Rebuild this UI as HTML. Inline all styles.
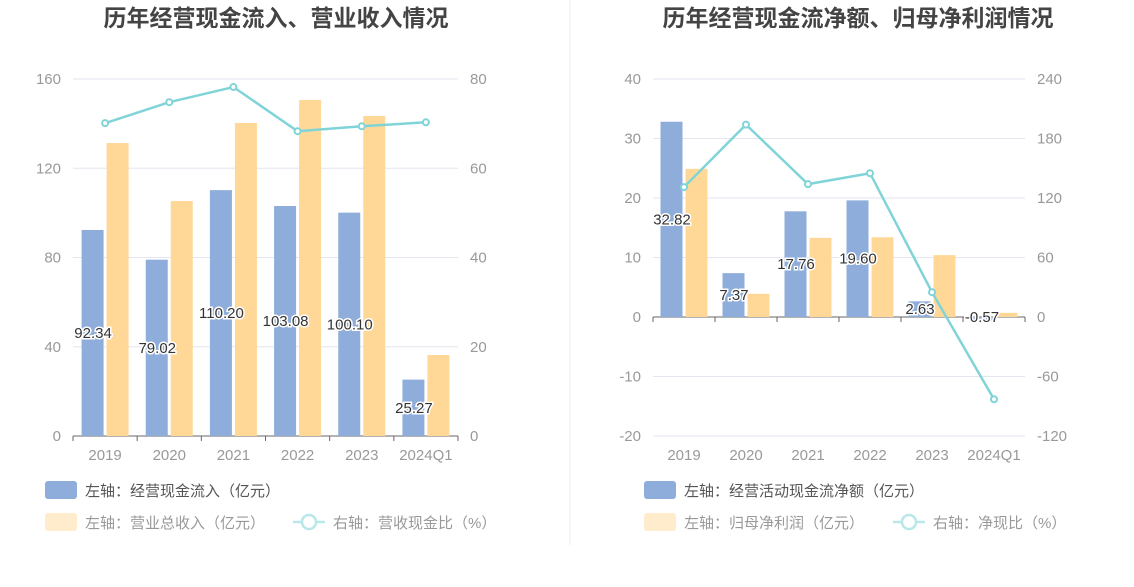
<!DOCTYPE html>
<html><head><meta charset="utf-8"><style>
body{margin:0;background:#fff;width:1134px;height:582px;overflow:hidden;font-family:"Liberation Sans","Noto Sans CJK SC",sans-serif;}
svg text{font-family:"Liberation Sans","Noto Sans CJK SC",sans-serif;}
</style></head><body>
<svg id="c" width="1134" height="582"></svg>
<script>
const cats1=["2019","2020","2021","2022","2023","2024Q1"];
const inflow=[92.34,79.02,110.20,103.08,100.10,25.27];
const revenue=[131.3,105.3,140.3,150.6,143.4,36.3];
const ratio1=[70.1,74.8,78.2,68.3,69.4,70.3];
const yTicks1=[0,40,80,120,160];
const yRTicks1=[0,20,40,60,80];
const cats2=["2019","2020","2021","2022","2023","2024Q1"];
const netCash=[32.82,7.37,17.76,19.60,2.63,-0.57];
const netProfit=[24.9,3.9,13.3,13.4,10.4,0.7];
const ratio2=[131,194,134,145,25,-83];
const yTicks2=[-20,-10,0,10,20,30,40];
const yRTicks2=[-120,-60,0,60,120,180,240];

const NS="http://www.w3.org/2000/svg";
const svg=document.getElementById('c');
function el(t,a,p){const e=document.createElementNS(NS,t);for(const k in a)e.setAttribute(k,a[k]);(p||svg).appendChild(e);return e;}
function txt(s,a,p){const e=el('text',a,p);e.textContent=s;return e;}

function chart(o){
  const g=el('g',{});
  
  
  const y=v=>o.y0+(v-o.min)/(o.max-o.min)*(o.y1-o.y0);
  const yr=v=>o.y0+(v-o.rmin)/(o.rmax-o.rmin)*(o.y1-o.y0);
  const bw=(o.x1-o.x0)/o.cats.length;
  const cx=i=>o.x0+bw*(i+0.5);
  const t=txt(o.title,{x:o.titleX,y:26,'text-anchor':'middle','font-size':23,'font-weight':'bold',fill:'#444'},g);
  
  o.ticks.forEach(v=>{
    el('line',{x1:o.x0,x2:o.x1,y1:y(v),y2:y(v),stroke:'#e3e6ef','stroke-width':1},g);
    const l=txt(String(v),{x:o.x0-12,y:y(v)+5,'text-anchor':'end','font-size':15,fill:'#999'},g);
    
  });
  o.rticks.forEach(v=>{
    const l=txt(String(v),{x:o.x1+12,y:yr(v)+5,'font-size':15,fill:'#999'},g);
    
  });
  el('line',{x1:o.x0,x2:o.x1,y1:y(0),y2:y(0),stroke:'#666','stroke-width':1},g);
  o.cats.forEach((c,i)=>{
    el('line',{x1:o.x0+bw*i,x2:o.x0+bw*i,y1:y(0),y2:y(0)+5,stroke:'#666'},g);
    const l=txt(c,{x:cx(i),y:o.y0+24,'text-anchor':'middle','font-size':15,fill:'#999'},g);
    
  });
  el('line',{x1:o.x1,x2:o.x1,y1:y(0),y2:y(0)+5,stroke:'#666'},g);
  const w=22;
  o.a.forEach((v,i)=>{
    const r=el('rect',{x:cx(i)-w-1.5,y:Math.min(y(v),y(0)),width:w,height:Math.abs(y(v)-y(0)),fill:'#8eaddb'},g);
    
  });
  o.b.forEach((v,i)=>{
    const r=el('rect',{x:cx(i)+1.5,y:Math.min(y(v),y(0)),width:w,height:Math.abs(y(v)-y(0)),fill:'#ffd898'},g);
    
  });
  o.a.forEach((v,i)=>{
    const l=txt(v.toFixed(2),{x:cx(i)-12,y:o.labelAt(i,v,y),'text-anchor':'middle','font-size':15,fill:'#333',stroke:'#fff','stroke-width':3,'paint-order':'stroke'},g);
    
  });
  const pts=o.line.map((v,i)=>cx(i)+','+yr(v)).join(' ');
  const pl=el('polyline',{points:pts,fill:'none',stroke:'#80d4d8','stroke-width':2.5},g);
  
  o.line.forEach((v,i)=>{
    const c=el('circle',{cx:cx(i),cy:yr(v),r:3,fill:'#fff',stroke:'#80d4d8','stroke-width':2},g);
    
  });
  const lx=o.legX;
  let r=el('rect',{x:lx,y:481,width:32,height:18,rx:3,fill:'#8eaddb'},g);
  
  let l=txt(o.legA,{x:lx+40,y:496,'font-size':15,fill:'#555'},g);
  
  r=el('rect',{x:lx,y:513,width:32,height:18,rx:3,fill:'#ffeccc'},g);
  
  l=txt(o.legB,{x:lx+40,y:528,'font-size':15,fill:'#999'},g);
  
  el('line',{x1:o.legCX,x2:o.legCX+32,y1:522,y2:522,stroke:'#b8e8ea','stroke-width':2.5},g);
  el('circle',{cx:o.legCX+16,cy:522,r:7,fill:'#fff',stroke:'#b8e8ea','stroke-width':2.5},g);
  l=txt(o.legC,{x:o.legCX+40,y:528,'font-size':15,fill:'#999'},g);
  
}
chart({name:'left-chart',title:'历年经营现金流入、营业收入情况',titleX:276,x0:73,x1:458,y0:436,y1:79,min:0,max:160,rmin:0,rmax:80,
  ticks:yTicks1,rticks:yRTicks1,cats:cats1,a:inflow,b:revenue,line:ratio1,
  labelAt:(i,v,y)=>(y(v)+y(0))/2+5,
  legX:45,legA:'左轴：经营现金流入（亿元）',legB:'左轴：营业总收入（亿元）',legC:'右轴：营收现金比（%）',legCX:293});
chart({name:'right-chart',title:'历年经营现金流净额、归母净利润情况',titleX:858,x0:653,x1:1025,y0:436,y1:79,min:-20,max:40,rmin:-120,rmax:240,
  ticks:yTicks2,rticks:yRTicks2,cats:cats2,a:netCash,b:netProfit,line:ratio2,
  labelAt:(i,v,y)=>v<0?y(0)+5:Math.min((y(v)+y(0))/2+5,y(0)-3),
  legX:644,legA:'左轴：经营活动现金流净额（亿元）',legB:'左轴：归母净利润（亿元）',legC:'右轴：净现比（%）',legCX:893});
el('line',{x1:570,x2:570,y1:0,y2:545,stroke:'#eee','stroke-width':1});
</script>
</body></html>
